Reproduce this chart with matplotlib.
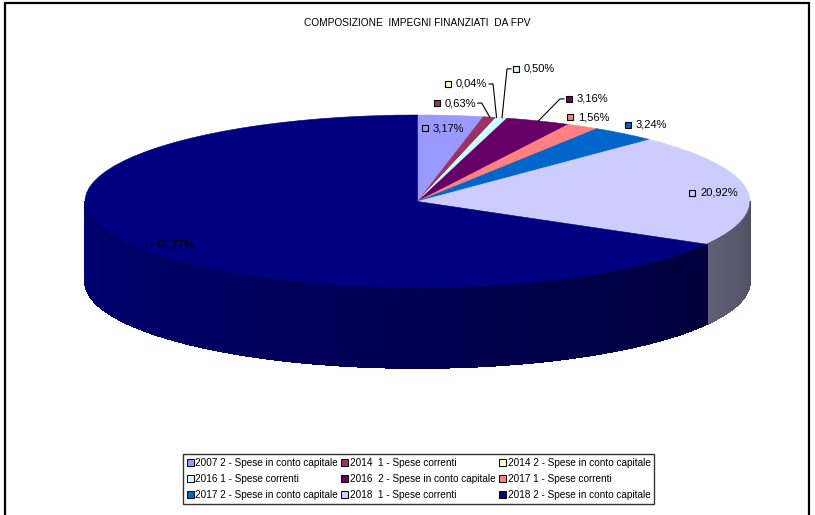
import matplotlib
matplotlib.use("Agg")
import matplotlib.pyplot as plt
from matplotlib.patches import Patch, Rectangle
import numpy as np

plt.rcParams['font.family'] = ['Liberation Sans', 'DejaVu Sans']

# Dati
categorie = ['2007 2 - Spese in conto capitale', '2014  1 - Spese correnti',
             '2014 2 - Spese in conto capitale', '2016 1 - Spese correnti',
             '2016  2 - Spese in conto capitale', '2017 1 - Spese correnti',
             '2017 2 - Spese in conto capitale', '2018  1 - Spese correnti',
             '2018 2 - Spese in conto capitale']
percentuali = [3.17, 0.63, 0.04, 0.50, 3.16, 1.56, 3.24, 20.92, 66.77]
colori = ['#9999FF', '#993366', '#FFFFCC', '#CCFFFF', '#660066',
          '#FF8080', '#0066CC', '#CCCCFF', '#000080']
titolo = 'COMPOSIZIONE  IMPEGNI FINANZIATI  DA FPV'

# Geometria della torta 3D (in pixel della figura)
W, H = 815, 515
CX, CY = 417.5, 201.5
A, B = 332.5, 86.5
DEPTH = 80

# posizione delle etichette: spostamento (px) del quadratino rispetto al bordo, lato della linea guida
etich_offset = [(-25.5, 12.6), (-53, -14), (-48.5, -33.5), (14, -49), (30.7, -22),
                (-12.8, -9.4), (3.7, -8.8), (-54.7, 3.6), (17.8, -1)]
etich_guida = [None, 'R', 'R', 'L', 'L', None, None, None, None]

fig = plt.figure(figsize=(W / 100, H / 100), dpi=100)
ax = fig.add_axes([0, 0, 1, 1])

wedges, _ = ax.pie(percentuali, colors=colori, startangle=90, counterclock=False,
                   wedgeprops=dict(linewidth=0.4))
for w in wedges:
    w.set_edgecolor(w.get_facecolor())
    w.set_zorder(3)

ax.set_aspect('auto')
ax.set_xlim(-CX / A, (W - CX) / A)
ax.set_ylim((CY - H) / B, CY / B)
ax.axis('off')

dep = DEPTH / B
tot = sum(percentuali)
cum = np.concatenate([[0], np.cumsum(percentuali)]) / tot
ang_start = 90 - 360 * cum[:-1]
ang_end = 90 - 360 * cum[1:]


def ombra(t):
    return 0.38 + 0.52 * (-t / 180)


# fianco visibile (metà anteriore), con ombreggiatura
for i, col in enumerate(colori):
    lo, hi = max(ang_end[i], -180), min(ang_start[i], 0)
    if hi <= lo:
        continue
    base = np.array(matplotlib.colors.to_rgb(col))
    # sagoma intera (bordo liscio)
    tt = np.radians(np.linspace(hi, lo, 120))
    xs = np.concatenate([np.cos(tt), np.cos(tt[::-1])])
    ys = np.concatenate([np.sin(tt), np.sin(tt[::-1]) - dep])
    ax.fill(xs, ys, color=base * ombra(0.5 * (hi + lo)), lw=0, zorder=1.5)
    # strisce sfumate
    steps = np.linspace(hi, lo, max(int((hi - lo) / 0.6), 2))
    for t0, t1 in zip(steps[:-1], steps[1:]):
        tm = 0.5 * (t0 + t1)
        tt = np.radians(np.linspace(t0, t1, 3))
        xs = np.concatenate([np.cos(tt), np.cos(tt[::-1])])
        ys = np.concatenate([np.sin(tt), np.sin(tt[::-1]) - dep])
        c = base * ombra(tm)
        ax.fill(xs, ys, color=c, lw=0.6, ec=c, antialiased=False, zorder=2)

# bordo anteriore della faccia superiore
tt = np.radians(np.linspace(-180, 0, 200))
ax.plot(np.cos(tt), np.sin(tt), color='#000040', lw=0.6, alpha=0.6, zorder=4)

# etichette dati
for i, v in enumerate(percentuali):
    tm = np.radians(0.5 * (ang_start[i] + ang_end[i]))
    rx, ry = np.cos(tm), np.sin(tm)
    dx, dy = etich_offset[i]
    sx, sy = rx + dx / A, ry - dy / B
    ax.plot([sx], [sy], marker='s', ms=4.8, mfc=colori[i], mec='black', mew=0.8,
            ls='none', zorder=6)
    ax.text(sx + 8 / A, sy, f'{v:.2f}'.replace('.', ',') + '%', fontsize=8,
            ha='left', va='center', color='black', zorder=6)
    if etich_guida[i] == 'R':
        ex = sx + 41 / A
        ax.plot([ex, ex + 4 / A, rx], [sy, sy, ry], color='black', lw=0.8, zorder=5)
    elif etich_guida[i] == 'L':
        ex = sx - 5 / A
        ax.plot([ex, ex - 4 / A, rx], [sy, sy, ry], color='black', lw=0.8, zorder=5)

fig.text(0.512, 1 - 23 / H, titolo, ha='center', va='center', fontsize=7.3)

# legenda (ordine per righe)
maniglie = [Patch(facecolor=c, edgecolor='black', linewidth=0.7) for c in colori]
ordine = [0, 3, 6, 1, 4, 7, 2, 5, 8]
leg = fig.legend([maniglie[k] for k in ordine], [categorie[k] for k in ordine],
                 ncol=3, loc='center', bbox_to_anchor=(418.5 / W, 1 - 478.5 / H),
                 fontsize=7.2, frameon=True, fancybox=False, edgecolor='black',
                 handlelength=0.7, handleheight=0.7, handletextpad=0.15,
                 columnspacing=0.35, borderpad=0.4, labelspacing=0.6,
                 borderaxespad=0)
leg.get_frame().set_linewidth(1.0)

# cornice del grafico
fig.patches.append(Rectangle((5 / W, -0.05), (809 - 5) / W, 1 - 2.5 / H + 0.05,
                             transform=fig.transFigure, fill=False,
                             edgecolor='black', linewidth=1.6))

fig.savefig('out.png', dpi=100)
